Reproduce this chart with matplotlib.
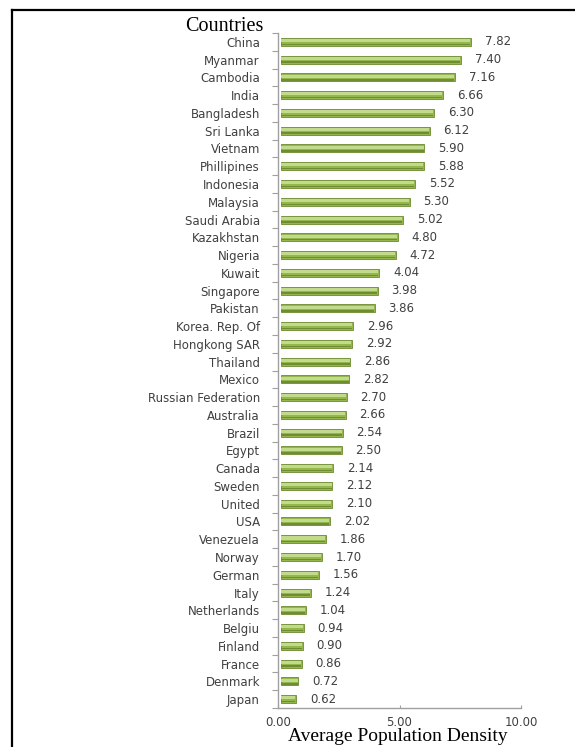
import matplotlib
matplotlib.use("Agg")
import matplotlib.pyplot as plt
import numpy as np

countries = ["China", "Myanmar", "Cambodia", "India", "Bangladesh", "Sri Lanka", "Vietnam",
             "Phillipines", "Indonesia", "Malaysia", "Saudi Arabia", "Kazakhstan", "Nigeria",
             "Kuwait", "Singapore", "Pakistan", "Korea. Rep. Of", "Hongkong SAR", "Thailand",
             "Mexico", "Russian Federation", "Australia", "Brazil", "Egypt", "Canada", "Sweden",
             "United", "USA", "Venezuela", "Norway", "German", "Italy", "Netherlands", "Belgiu",
             "Finland", "France", "Denmark", "Japan"]
density = [7.82, 7.40, 7.16, 6.66, 6.30, 6.12, 5.90, 5.88, 5.52, 5.30, 5.02, 4.80, 4.72,
           4.04, 3.98, 3.86, 2.96, 2.92, 2.86, 2.82, 2.70, 2.66, 2.54, 2.50, 2.14, 2.12,
           2.10, 2.02, 1.86, 1.70, 1.56, 1.24, 1.04, 0.94, 0.90, 0.86, 0.72, 0.62]
xticks = [0, 5, 10]
xticklabels = ["0.00", "5.00", "10.00"]

W, H = 575, 747
fig = plt.figure(figsize=(W / 100, H / 100), dpi=100)

# frame lines (top and left)
fig.add_artist(plt.Line2D([12 / W, 1.0], [1 - 9.5 / H, 1 - 9.5 / H], color="black", lw=1.6))
fig.add_artist(plt.Line2D([12 / W, 12 / W], [0, 1 - 9.5 / H], color="black", lw=1.6))

ax = fig.add_axes([278 / W, (H - 708) / H, (521 - 278) / W, (708 - 33) / H])
n = len(countries)
y = np.arange(n)[::-1]
vals = np.array(density)

ax.barh(y, vals, height=0.45, left=0.12, color="#93b74c", edgecolor="#6d8a2f", lw=0.6, zorder=3)
ax.barh(y + 0.07, vals - 0.05, height=0.17, left=0.14, color="#c2db8b", lw=0, zorder=4)
ax.barh(y - 0.14, vals - 0.05, height=0.08, left=0.14, color="#6f8c33", lw=0, zorder=4)

for yi, v in zip(y, vals):
    ax.annotate(f"{v:.2f}", (v + 0.12, yi), xytext=(10, 0), textcoords="offset points",
                va="center", ha="left", fontsize=8.5, color="#404040")

ax.set_xlim(0, 10)
ax.set_ylim(-0.5, n - 0.5)
ax.set_yticks(y)
ax.set_yticklabels(countries, fontsize=8.5, color="#404040")
ax.tick_params(axis="y", length=0, pad=13)
ax.set_yticks(np.arange(-0.5, n, 1.0), minor=True)
ax.tick_params(axis="y", which="minor", length=4, color="#a0a0a0", width=0.8)
ax.set_xticks(xticks)
ax.set_xticklabels(xticklabels, fontsize=8.5, color="#404040")
ax.tick_params(axis="x", length=2, color="#a0a0a0", width=0.8, pad=6, direction="in")
for s in ["top", "right"]:
    ax.spines[s].set_visible(False)
for s in ["left", "bottom"]:
    ax.spines[s].set_color("#a0a0a0")
    ax.spines[s].set_linewidth(1.0)

fig.text(263 / W, 1 - 31 / H, "Countries", family="Liberation Serif", fontsize=14.5,
         ha="right", va="baseline", color="black")
fig.text(398 / W, 1 - 741 / H, "Average Population Density", family="Liberation Serif",
         fontsize=14, ha="center", va="baseline", color="black")

fig.savefig("out.png", dpi=100, facecolor="white")
